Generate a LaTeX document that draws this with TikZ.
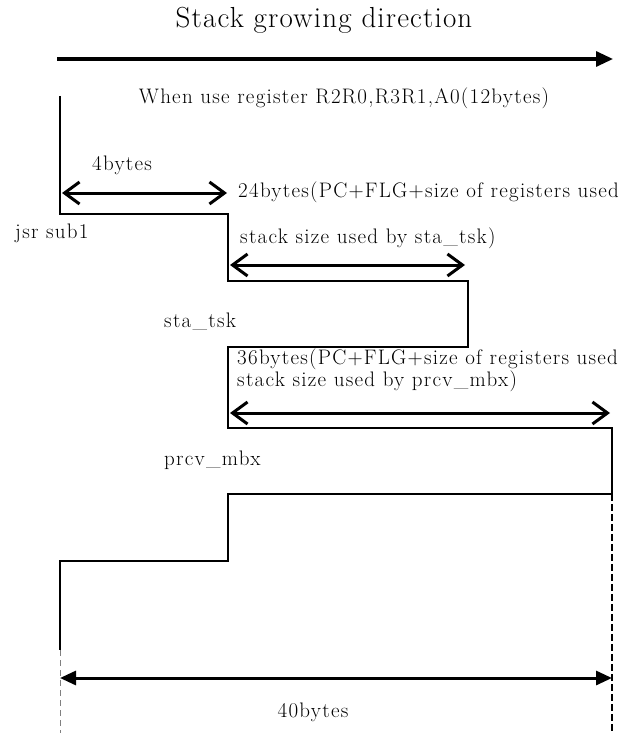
\documentclass[tikz,border=0pt]{standalone}
\usepackage{fontspec}
\setmainfont{Latin Modern Roman}
\newfontfamily\wideserif[LetterSpace=6]{Latin Modern Roman}
\newfontfamily\titleserif[LetterSpace=4]{Latin Modern Roman}
\usetikzlibrary{arrows.meta}
\tikzset{
  wall/.style={line width=2.6pt, line join=miter},
  sizearrow/.style={line width=3pt, {Straight Barb[length=15pt,width=22pt]}-{Straight Barb[length=15pt,width=22pt]}},
  lbl/.style={anchor=base west, inner sep=0pt, font=\wideserif\fontsize{21}{18}\selectfont},
}
\begin{document}
\begin{tikzpicture}[x=1pt, y=-1pt]
    \useasboundingbox (0,0) rectangle (630,733);
    % 成長方向
    \node[anchor=base, inner sep=0pt, font=\titleserif\fontsize{29}{30}\selectfont] (title) at (324,28) {Stack growing direction};
    \coordinate (dirL) at (57,59);
    \coordinate (dirR) at (613,59);
    \draw[line width=3.2pt, -{Triangle[length=17pt,width=15pt]}] (dirL) -- (dirR);
    \node[lbl, anchor=base] (regs) at (344,104) {When use register R2R0,R3R1,A0(12bytes)};
    % 階段
    \coordinate (p0) at (60,96);
    \coordinate (p1) at (60,214);
    \coordinate (p2) at (228,214);
    \coordinate (p3) at (228,281);
    \coordinate (p4) at (468,281);
    \coordinate (p5) at (468,347);
    \coordinate (p6) at (228,347);
    \coordinate (p7) at (228,428);
    \coordinate (p8) at (612,428);
    \coordinate (p9) at (612,494);
    \coordinate (p10) at (228,494);
    \coordinate (p11) at (228,561);
    \coordinate (p12) at (60,561);
    \coordinate (p13) at (60,650);
    \draw[wall] (p0) -- (p1) -- (p2) -- (p3) -- (p4) -- (p5) -- (p6) -- (p7)
      -- (p8) -- (p9) -- (p10) -- (p11) -- (p12) -- (p13);
    \coordinate (rEnd) at (612,733);
    \coordinate (lEnd) at (60,733);
    \draw[line width=2.4pt, dash pattern=on 7pt off 3pt] (p9) -- (rEnd);
    \draw[gray, line width=1pt, dash pattern=on 6pt off 4pt] (p13) -- (lEnd);
    % サイズ
    \coordinate (a1L) at (62,193);
    \coordinate (a1R) at (227,193);
    \coordinate (a2L) at (230,265);
    \coordinate (a2R) at (465,265);
    \coordinate (a3L) at (230,413);
    \coordinate (a3R) at (610,413);
    \draw[sizearrow] (a1L) -- (a1R);
    \draw[sizearrow] (a2L) -- (a2R);
    \draw[sizearrow] (a3L) -- (a3R);
    \coordinate (totL) at (60,678);
    \coordinate (totR) at (612,678);
    \draw[line width=3pt, {Triangle[length=16pt,width=14pt]}-{Triangle[length=16pt,width=14pt]}] (totL) -- (totR);
    % ラベル
    \node[lbl] (b4) at (92,170) {4bytes};
    \node[lbl] (b24) at (238,197) {24bytes(PC+FLG+size of registers used};
    \node[lbl] (b24b) at (240,243) {stack size used by sta\_tsk)};
    \node[lbl] (jsr) at (15,238) {jsr sub1};
    \node[lbl] (sta) at (164,327) {sta\_tsk};
    \node[lbl, align=left, font=\wideserif\fontsize{21}{21.5}\selectfont] (b36) at (237,386) {36bytes(PC+FLG+size of registers used\\stack size used by prcv\_mbx)};
    \node[lbl] (prcv) at (164,465) {prcv\_mbx};
    \node[lbl, anchor=base] (b40) at (313,717) {40bytes};
\end{tikzpicture}
\end{document}
